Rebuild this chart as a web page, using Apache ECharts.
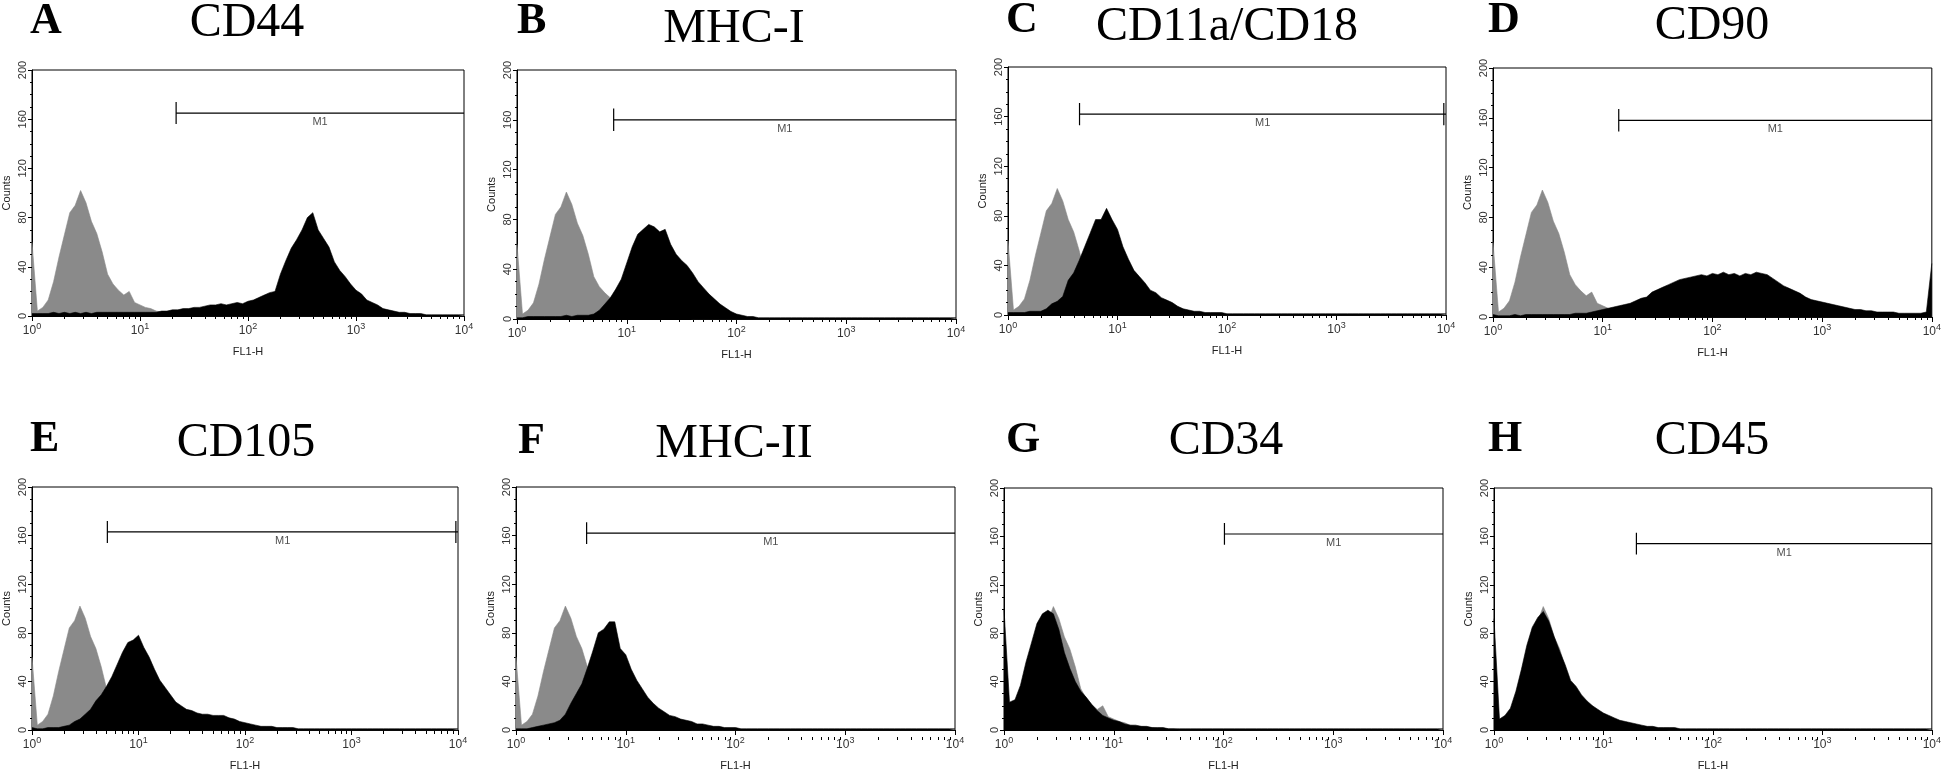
<!DOCTYPE html>
<html>
<head>
<meta charset="utf-8">
<title>Flow cytometry histograms</title>
<script src="https://cdn.jsdelivr.net/npm/echarts@6/dist/echarts.min.js"></script>
<style>
html, body { margin: 0; padding: 0; background: #fff; }
#chart { width: 1944px; height: 772px; }
</style>
</head>
<body>
<div id="chart"></div>
<script>
// panel letters and marker names
var panelLetters = ['A', 'B', 'C', 'D', 'E', 'F', 'G', 'H'];
var panelTitles = ['CD44', 'MHC-I', 'CD11a/CD18', 'CD90', 'CD105', 'MHC-II', 'CD34', 'CD45'];

// axis ticks
var countTicks = [0, 40, 80, 120, 160, 200];
var decades = [1, 10, 100, 1000, 10000];
var minorTicks = [2, 3, 4, 5, 6, 7, 8, 9, 20, 30, 40, 50, 60, 70, 80, 90,
  200, 300, 400, 500, 600, 700, 800, 900, 2000, 3000, 4000, 5000, 6000, 7000, 8000, 9000];

// counts read every 0.05 decade of FL1-H, from 10^0 to 10^4 (81 values each)
// isotype control (grey) is the same in every panel
var isotype = [
  60, 4, 7, 13, 28, 48, 66, 84, 90, 102,
  92, 77, 67, 52, 34, 26, 21, 17, 20, 11,
  9, 7, 6, 4, 3, 3, 2, 2, 1, 1,
  1, 1, 0, 0, 0, 0, 0, 0, 0, 0,
  0, 0, 0, 0, 0, 0, 0, 0, 0, 0,
  0, 0, 0, 0, 0, 0, 0, 0, 0, 0,
  0, 0, 0, 0, 0, 0, 0, 0, 0, 0,
  0, 0, 0, 0, 0, 0, 0, 0, 0, 0,
  0];
var cd44 = [
  2, 2, 2, 2, 3, 2, 3, 2, 3, 2,
  3, 2, 3, 3, 3, 3, 3, 3, 3, 3,
  3, 3, 3, 3, 4, 4, 5, 5, 6, 6,
  7, 7, 8, 9, 9, 10, 9, 10, 11, 10,
  12, 13, 15, 17, 19, 20, 34, 45, 55, 62,
  70, 80, 84, 70, 63, 56, 44, 37, 32, 26,
  21, 18, 13, 11, 9, 6, 5, 4, 3, 3,
  2, 2, 2, 1, 1, 1, 1, 1, 1, 1,
  1];
var mhc1 = [
  1, 1, 2, 2, 2, 2, 2, 2, 2, 3,
  2, 3, 3, 3, 4, 7, 12, 17, 24, 32,
  45, 58, 68, 72, 76, 74, 70, 72, 60, 52,
  47, 43, 37, 30, 25, 20, 16, 12, 9, 6,
  4, 3, 2, 2, 1, 1, 1, 1, 1, 1,
  1, 1, 1, 1, 1, 1, 1, 1, 1, 1,
  1, 1, 1, 1, 1, 1, 1, 1, 1, 1,
  1, 1, 1, 1, 1, 1, 1, 1, 1, 1,
  1];
var cd11a = [
  2, 2, 2, 2, 3, 3, 3, 5, 9, 11,
  15, 28, 34, 44, 55, 66, 77, 77, 86, 77,
  69, 55, 45, 36, 31, 26, 20, 18, 14, 12,
  10, 7, 5, 4, 3, 3, 2, 2, 2, 2,
  1, 1, 1, 1, 1, 1, 1, 1, 1, 1,
  1, 1, 1, 1, 1, 1, 1, 1, 1, 1,
  1, 1, 1, 1, 1, 1, 1, 1, 1, 1,
  1, 1, 1, 1, 1, 1, 1, 1, 1, 1,
  1];
var cd90 = [
  2, 1, 1, 1, 2, 1, 2, 2, 2, 2,
  2, 2, 2, 2, 2, 3, 3, 3, 4, 5,
  6, 7, 8, 9, 10, 11, 13, 15, 16, 20,
  22, 24, 26, 28, 30, 31, 32, 33, 34, 33,
  35, 34, 36, 34, 35, 33, 35, 34, 36, 35,
  34, 31, 28, 25, 23, 21, 19, 16, 14, 13,
  12, 11, 10, 9, 8, 7, 6, 6, 5, 5,
  4, 4, 4, 4, 3, 3, 3, 3, 3, 4,
  43];
var cd105 = [
  2, 1, 1, 2, 2, 2, 3, 4, 7, 9,
  13, 17, 24, 29, 36, 44, 54, 64, 72, 74,
  78, 68, 60, 50, 41, 35, 29, 23, 20, 17,
  16, 14, 13, 13, 12, 12, 12, 10, 9, 7,
  6, 5, 4, 3, 3, 3, 2, 2, 2, 2,
  1, 1, 1, 1, 1, 1, 1, 1, 1, 1,
  1, 1, 1, 1, 1, 1, 1, 1, 1, 1,
  1, 1, 1, 1, 1, 1, 1, 1, 1, 1,
  1];
var mhc2 = [
  1, 1, 1, 2, 3, 4, 5, 6, 8, 13,
  22, 30, 38, 51, 65, 80, 83, 89, 89, 67,
  62, 50, 41, 34, 27, 22, 18, 15, 12, 11,
  9, 8, 7, 5, 5, 4, 3, 3, 2, 2,
  2, 1, 1, 1, 1, 1, 1, 1, 1, 1,
  1, 1, 1, 1, 1, 1, 1, 1, 1, 1,
  1, 1, 1, 1, 1, 1, 1, 1, 1, 1,
  1, 1, 1, 1, 1, 1, 1, 1, 1, 1,
  1];
var cd34 = [
  100, 23, 25, 37, 56, 72, 88, 96, 99, 96,
  83, 64, 51, 40, 32, 27, 21, 16, 12, 10,
  8, 7, 5, 4, 4, 3, 3, 2, 2, 2,
  1, 1, 1, 1, 1, 1, 1, 1, 1, 1,
  1, 1, 1, 1, 1, 1, 1, 1, 1, 1,
  1, 1, 1, 1, 1, 1, 1, 1, 1, 1,
  1, 1, 1, 1, 1, 1, 1, 1, 1, 1,
  1, 1, 1, 1, 1, 1, 1, 1, 1, 1,
  1];
var cd45 = [
  92, 9, 12, 18, 32, 50, 70, 85, 93, 98,
  90, 77, 65, 54, 41, 36, 29, 24, 20, 17,
  14, 12, 10, 8, 7, 6, 5, 4, 3, 3,
  2, 2, 2, 2, 1, 1, 1, 1, 1, 1,
  1, 1, 1, 1, 1, 1, 1, 1, 1, 1,
  1, 1, 1, 1, 1, 1, 1, 1, 1, 1,
  1, 1, 1, 1, 1, 1, 1, 1, 1, 1,
  1, 1, 1, 1, 1, 1, 1, 1, 1, 1,
  1];
var stained = [cd44, mhc1, cd11a, cd90, cd105, mhc2, cd34, cd45];

// M1 marker gates: start (FL1-H), height (counts), tick at right end
var gateStart = [21.6, 7.6, 4.5, 14, 5.1, 4.4, 102, 20];
var gateLevel = [165, 160, 162, 158, 163, 162, 162, 154];
var gateEndTick = [false, false, true, false, true, false, false, false];

// layout: grid rect [left, top, width, height], title centre, letter left/middle
var gridRects = [
  [29, 70, 435, 246], [517, 70, 439, 249], [1008, 67, 438, 248], [1493, 68, 440, 249],
  [28, 487, 430, 244], [516, 487, 439, 250], [1004, 488, 439, 249], [1494, 488, 440, 249]
];
var titlePos = [[247, 23], [734, 29], [1227, 27], [1712, 26], [246, 443], [734, 444], [1226, 441], [1712, 441]];
var letterPos = [[30, 22], [517, 22], [1006, 21], [1488, 21], [30, 440], [518, 442], [1006, 441], [1488, 440]];

var GREY = '#8a8a8a';
var SANS = 'Liberation Sans, Arial, sans-serif';
var SERIF = 'Liberation Serif, Times New Roman, serif';

function toPairs(values) {
  // channel i sits at 10^(i/20)
  return values.map(function (v, i) { return [Math.pow(10, i / 20), v]; });
}

var grids = [], xAxes = [], yAxes = [], series = [], graphics = [];

for (var i = 0; i < 8; i++) {
  var r = gridRects[i];
  grids.push({
    left: r[0], top: r[1], width: r[2], height: r[3],
    show: true, borderColor: '#000', borderWidth: 1
  });

  xAxes.push({
    type: 'log', logBase: 10, gridIndex: i, position: 'bottom',
    min: decades[0], max: decades[4],
    axisLine: { lineStyle: { color: '#000', width: 1 } },
    axisTick: { length: 5, lineStyle: { color: '#000' }, customValues: decades },
    axisLabel: {
      customValues: decades, margin: 6, color: '#333', fontFamily: SANS,
      formatter: function (v) {
        return '{b|10}{s|' + Math.round(Math.log10(v)) + '}';
      },
      rich: {
        b: { fontSize: 12, fontFamily: SANS, color: '#333' },
        s: { fontSize: 9, fontFamily: SANS, color: '#333', padding: [0, 0, 8, 0] }
      }
    },
    splitLine: { show: false },
    name: 'FL1-H', nameLocation: 'middle', nameGap: 30,
    nameTextStyle: { fontSize: 11, fontFamily: SANS, color: '#222' }
  });
  // log minor ticks (2..9 in each decade): a top axis shifted down onto the bottom edge,
  // ticks turned "inside" so they point down like the main ones
  xAxes.push({
    type: 'log', logBase: 10, gridIndex: i, position: 'top', offset: -r[3],
    min: decades[0], max: decades[4],
    axisLine: { show: false },
    axisTick: { inside: true, length: 3, lineStyle: { color: '#000' }, customValues: minorTicks },
    axisLabel: { show: false },
    splitLine: { show: false }
  });

  yAxes.push({
    type: 'value', gridIndex: i, min: countTicks[0], max: countTicks[5], interval: 40,
    axisLine: { show: true, lineStyle: { color: '#000', width: 1 } },
    axisTick: { show: true, length: 4, lineStyle: { color: '#000' } },
    minorTick: { show: true, splitNumber: 4, length: 2, lineStyle: { color: '#000' } },
    axisLabel: { rotate: 90, fontSize: 11, margin: 4, color: '#333', fontFamily: SANS },
    splitLine: { show: false },
    name: 'Counts', nameLocation: 'middle', nameRotate: 90, nameGap: 20,
    nameTextStyle: { fontSize: 11, fontFamily: SANS, color: '#222' }
  });

  series.push({
    type: 'line', xAxisIndex: 2 * i, yAxisIndex: i, data: toPairs(isotype),
    symbol: 'none', silent: true, z: 2,
    lineStyle: { color: GREY, width: 0.6 }, areaStyle: { color: GREY, opacity: 1 }
  });
  series.push({
    type: 'line', xAxisIndex: 2 * i, yAxisIndex: i, data: toPairs(stained[i]),
    symbol: 'none', silent: true, z: 3,
    lineStyle: { color: '#000', width: 0.6 }, areaStyle: { color: '#000', opacity: 1 }
  });

  // M1 gate
  var g0 = gateStart[i], lv = gateLevel[i];
  series.push({
    type: 'line', xAxisIndex: 2 * i, yAxisIndex: i, symbol: 'none', silent: true, z: 5,
    data: [[g0, lv], [decades[4], lv]], lineStyle: { color: '#000', width: 1.2 }
  });
  series.push({
    type: 'line', xAxisIndex: 2 * i, yAxisIndex: i, symbol: 'none', silent: true, z: 5,
    data: [[g0, lv - 9], [g0, lv + 9]], lineStyle: { color: '#000', width: 1.2 }
  });
  if (gateEndTick[i]) {
    series.push({
      type: 'line', xAxisIndex: 2 * i, yAxisIndex: i, symbol: 'none', silent: true, z: 5,
      data: [[9550, lv - 9], [9550, lv + 9]], lineStyle: { color: '#000', width: 1.2 }
    });
  }
  series.push({
    type: 'scatter', xAxisIndex: 2 * i, yAxisIndex: i, silent: true, z: 5,
    data: [[Math.sqrt(g0 * decades[4]), lv]], symbolSize: 1,
    itemStyle: { color: 'rgba(0,0,0,0)' },
    label: {
      show: true, position: 'bottom', distance: 3, formatter: 'M1',
      fontSize: 11, fontFamily: SANS, color: '#222'
    }
  });

  graphics.push({
    type: 'text', x: titlePos[i][0], y: titlePos[i][1],
    style: {
      text: panelTitles[i], font: '48px ' + SERIF, fill: '#000',
      textAlign: 'center', textVerticalAlign: 'middle'
    }
  });
  graphics.push({
    type: 'text', x: letterPos[i][0], y: letterPos[i][1],
    style: {
      text: panelLetters[i], font: 'bold 44px ' + SERIF, fill: '#000',
      textAlign: 'left', textVerticalAlign: 'middle'
    }
  });
}

var chart = echarts.init(document.getElementById('chart'));
chart.setOption({
  backgroundColor: '#fff',
  animation: false,
  grid: grids,
  xAxis: xAxes,
  yAxis: yAxes,
  series: series,
  graphic: graphics
});
</script>
</body>
</html>
